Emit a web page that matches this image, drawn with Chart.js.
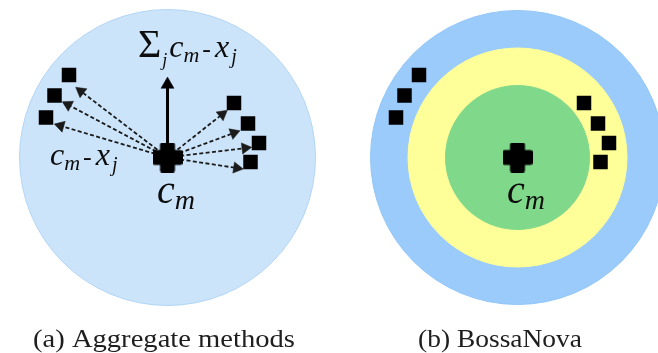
<!DOCTYPE html>
<html>
<head>
<meta charset="utf-8">
<script src="https://cdn.jsdelivr.net/npm/chart.js@4.4.1/dist/chart.umd.min.js"></script>
<style>
  html, body { margin: 0; padding: 0; background: #fff; overflow: hidden; }
  canvas { display: block; }
</style>
</head>
<body>
<canvas id="diagram" width="658" height="353"></canvas>
<script>
// Diagram coordinates: origin at the cluster centre c_m of panel (a),
// x to the right, y upward. Panel (b) repeats the layout further right.
const panelCentresX = [0, 350];
const panelCaptions = ['(a) Aggregate methods', '(b) BossaNova'];

// panel (a): a single region that holds every descriptor
const aggregateRadius = [148];
// panel (b): distance rings around c_m, outer to inner
const bossaRingRadii = [147, 109.5, 72];

// local descriptors x_j, relative to c_m (same in both panels)
const descriptorX = [-98.5, -113, -121.5, 66.5, 80.5, 91.5, 83];
const descriptorY = [82.5, 62, 40, 54.5, 34, 14.5, -4.5];

// tips of the difference vectors c_m - x_j drawn in panel (a)
const diffTipX = [-91.8, -105.2, -113.2, 59.8, 72.5, 84.2, 75.8];
const diffTipY = [70.2, 55.8, 33.5, 47.2, 26.8, 10.2, -11.5];

// tip of the summed vector  sum_j (c_m - x_j)
const sumTipX = [0];
const sumTipY = [80.5];

// ---------------------------------------------------------------------------

const INK = '#000';
const ARROW_INK = '#1b1b1b';
const regionFill = ['#cce4fa', '#9acbfb', '#ffff99', '#80d88a'];
const regionEdge = ['#b2d5f5', '#92c6f8', '#ffff99', '#80d88a'];

// chunky plus sign used for the centre c_m
function plusGlyph(size, arm) {
  const cv = document.createElement('canvas');
  cv.width = cv.height = size;
  const g = cv.getContext('2d');
  g.fillStyle = INK;
  const a = (size - arm) / 2;
  g.beginPath();
  g.roundRect(a, 0, arm, size, 2);
  g.roundRect(0, a, size, arm, 2);
  g.fill();
  return cv;
}

const pts = (xs, ys, dx = 0) => xs.map((x, i) => ({ x: x + dx, y: ys[i] }));

// arrow geometry: the head (triangle point) sits just behind each tip
function arrowParts(tx, ty, headR) {
  const len = Math.hypot(tx, ty);
  const ux = tx / len, uy = ty / len;
  return {
    head: { x: tx - ux * headR, y: ty - uy * headR },
    rot: Math.atan2(tx, ty) * 180 / Math.PI
  };
}

const regions = [
  ...aggregateRadius.map(r => ({ x: panelCentresX[0], y: 0, r })),
  ...bossaRingRadii.map(r => ({ x: panelCentresX[1], y: 0, r }))
];

const DIFF_HEAD = 6.5, SUM_HEAD = 7.5;
const diffArrows = diffTipX.map((x, i) => arrowParts(x, diffTipY[i], DIFF_HEAD));
const sumArrows = sumTipX.map((x, i) => arrowParts(x, sumTipY[i], SUM_HEAD));

const datasets = [];

// centres c_m
datasets.push({
  data: panelCentresX.map(x => ({ x, y: 0 })),
  pointStyle: plusGlyph(30, 15),
  pointRadius: 15,
  order: 0
});

// descriptors x_j
datasets.push({
  data: panelCentresX.flatMap(cx => pts(descriptorX, descriptorY, cx)),
  pointStyle: 'rect',
  pointRadius: 10.25,
  pointBackgroundColor: INK,
  pointBorderWidth: 0,
  order: 1
});

// arrow heads
datasets.push({
  data: diffArrows.map(a => a.head),
  pointStyle: 'triangle',
  pointRadius: DIFF_HEAD,
  pointRotation: diffArrows.map(a => a.rot),
  pointBackgroundColor: ARROW_INK,
  pointBorderColor: ARROW_INK,
  pointBorderWidth: 0.5,
  order: 2
});
datasets.push({
  data: sumArrows.map(a => a.head),
  pointStyle: 'triangle',
  pointRadius: SUM_HEAD,
  pointRotation: sumArrows.map(a => a.rot),
  pointBackgroundColor: INK,
  pointBorderColor: INK,
  pointBorderWidth: 0.5,
  order: 2
});

// dashed difference vectors
diffArrows.forEach(a => datasets.push({
  data: [{ x: 0, y: 0 }, a.head],
  showLine: true,
  borderColor: ARROW_INK,
  borderWidth: 1.8,
  borderDash: [4, 2.4],
  pointRadius: 0,
  order: 3
}));

// solid summed vector
sumArrows.forEach(a => datasets.push({
  data: [{ x: 0, y: 0 }, a.head],
  showLine: true,
  borderColor: INK,
  borderWidth: 3,
  pointRadius: 0,
  order: 3
}));

// shaded regions (radius expressed in diagram units)
datasets.push({
  data: regions,
  pointStyle: 'circle',
  pointRadius: ctx => {
    const s = ctx.chart.scales.x;
    return ctx.raw ? s.getPixelForValue(ctx.raw.r) - s.getPixelForValue(0) : 0;
  },
  pointBackgroundColor: regionFill,
  pointBorderColor: regionEdge,
  pointBorderWidth: 1,
  order: 10
});

// math labels: runs of (text, size, italic, baseline shift, gap before)
const run = (t, f, it, dy = 0, gap = 0) => ({ t, f, it, dy, gap });
const mathLabels = [
  { x: -29.5, y: 100.5, runs: [run('Σ', 40, false), run('j', 18, true, 9, 1), run('c', 32, true, 0, 2),
      run('m', 22, true, 5), run('-', 26, false, 0, 3), run('x', 32, true, 0, 4), run('j', 20, true, 6, 2)] },
  { x: -117.5, y: -7.5, runs: [run('c', 32, true), run('m', 22, true, 5), run('-', 26, false, 0, 3),
      run('x', 32, true, 0, 4), run('j', 20, true, 6, 2)] },
  ...panelCentresX.map(cx => ({ x: cx - 10.5, y: -45, runs: [run('c', 40, true), run('m', 28, true, 6)] }))
];

const captionBoxes = [
  { x0: -134.5, x1: 127.5, y: -189.5 },
  { x0: 250.5, x1: 414.5, y: -189.5 }
];

const textPlugin = {
  id: 'diagramText',
  afterDatasetsDraw(chart) {
    const { ctx, scales: { x, y } } = chart;
    ctx.save();
    ctx.textBaseline = 'alphabetic';
    ctx.textAlign = 'left';

    ctx.fillStyle = '#0d0d0d';
    mathLabels.forEach(lab => {
      let px = x.getPixelForValue(lab.x);
      const py = y.getPixelForValue(lab.y);
      lab.runs.forEach(r => {
        ctx.font = (r.it ? 'italic ' : '') + r.f + 'px "Liberation Serif"';
        px += r.gap;
        ctx.fillText(r.t, px, py + r.dy);
        px += ctx.measureText(r.t).width;
      });
    });

    ctx.fillStyle = '#1e1e1e';
    ctx.font = '25px "Liberation Serif"';
    panelCaptions.forEach((t, i) => {
      const b = captionBoxes[i];
      const left = x.getPixelForValue(b.x0);
      const width = x.getPixelForValue(b.x1) - left;
      const w = ctx.measureText(t).width;
      ctx.save();
      ctx.translate(left, y.getPixelForValue(b.y));
      ctx.scale(width / w, 1);
      ctx.fillText(t, 0, 0);
      ctx.restore();
    });
    ctx.restore();
  }
};

new Chart(document.getElementById('diagram'), {
  type: 'scatter',
  data: { datasets },
  options: {
    responsive: false,
    animation: false,
    devicePixelRatio: 1,
    events: [],
    layout: { padding: 0, autoPadding: false },
    plugins: { legend: { display: false }, tooltip: { enabled: false } },
    scales: {
      x: { type: 'linear', min: -167.5, max: 490.5, display: false },
      y: { type: 'linear', min: -195.5, max: 157.5, display: false }
    }
  },
  plugins: [textPlugin]
});
</script>
</body>
</html>
